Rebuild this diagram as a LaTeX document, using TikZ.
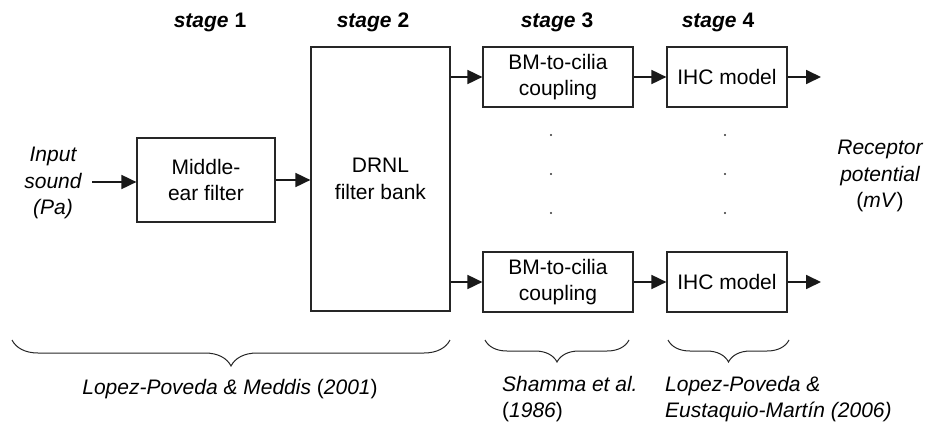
\documentclass[tikz,border=0pt]{standalone}
\usepackage{fontspec}
\setmainfont{Liberation Sans}
\usetikzlibrary{arrows.meta,decorations.pathreplacing}
\begin{document}
\begin{tikzpicture}[x=1pt,y=-1pt,
  font=\fontsize{21}{26.5}\selectfont,
  block/.style={draw=black!85,line width=1.2pt,minimum width=#1,align=center,inner sep=0pt},
  flow/.style={line width=1.8pt,draw=black!90,-{Triangle[length=15pt,width=14pt]}},
  label/.style={align=center,inner sep=0pt},
  stagelbl/.style={inner sep=0pt,font=\fontsize{21}{26.5}\selectfont\bfseries},
  grp/.style={draw=black!85,line width=1pt,decorate,decoration={brace,mirror,amplitude=13pt}},
  dot/.style={circle,fill=black!80,inner sep=0pt,minimum size=2.4pt}]
\useasboundingbox (0,0) rectangle (927,423);

% stage headers
\node[stagelbl] (s1) at (210,22) {\itshape stage\/ \upshape 1};
\node[stagelbl] (s2) at (373,22) {\itshape stage\/ \upshape 2};
\node[stagelbl] (s3) at (557,22) {\itshape stage\/ \upshape 3};
\node[stagelbl] (s4) at (718,22) {\itshape stage\/ \upshape 4};

% processing blocks
\node[block=138pt,minimum height=84pt] (me) at (206,180) {Middle-\\ear filter};
\node[block=139pt,minimum height=264pt] (drnl) at (380.5,179) {DRNL\\filter bank};
\node[block=150pt,minimum height=60pt] (bma) at (558,77) {BM-to-cilia\\coupling};
\node[block=120pt,minimum height=60pt] (ihca) at (727,77) {IHC model};
\node[block=150pt,minimum height=60pt] (bmb) at (558,282) {BM-to-cilia\\coupling};
\node[block=120pt,minimum height=60pt] (ihcb) at (727,282) {IHC model};

% input and output labels
\node[label] (in) at (53,183) {\itshape Input\\\itshape sound\\\itshape (Pa)};
\node[label] (out) at (880,176) {\itshape Receptor\\\itshape potential\\(\textit{mV})};
\coordinate (ina) at (92,182);
\coordinate (outa) at (821,77);
\coordinate (outb) at (821,282);

% signal flow
\draw[flow] (ina) -- (me.west |- ina);
\draw[flow] (me.east) -- (drnl.west |- me.east);
\draw[flow] (drnl.east |- bma.west) -- (bma.west);
\draw[flow] (drnl.east |- bmb.west) -- (bmb.west);
\draw[flow] (bma.east) -- (ihca.west);
\draw[flow] (bmb.east) -- (ihcb.west);
\draw[flow] (ihca.east) -- (outa);
\draw[flow] (ihcb.east) -- (outb);

% ellipsis between the channels
\foreach \y [count=\i] in {135,174,213} {
  \node[dot] (da\i) at (551,\y) {};
  \node[dot] (db\i) at (725,\y) {};
}

% model references
\coordinate (b1l) at (12,340);
\coordinate (b1r) at (450,340);
\coordinate (b2l) at (485,340);
\coordinate (b2r) at (629,340);
\coordinate (b3l) at (668,340);
\coordinate (b3r) at (789,340);
\draw[grp,decoration={amplitude=26pt,aspect=0.5}] (b1l) -- (b1r);
\draw[grp,decoration={amplitude=22pt,aspect=0.5}] (b2l) -- (b2r);
\draw[grp,decoration={amplitude=22pt,aspect=0.5}] (b3l) -- (b3r);

\node[label] (r1) at (230,389) {\itshape Lopez-Poveda \& Meddis \upshape(\textit{2001})};
\node[label,anchor=north west,align=left] (r2) at (502,376) {\itshape Shamma et al.\\(\textit{1986})};
\node[label,anchor=north west,align=left] (r3) at (665,376) {\itshape Lopez-Poveda \&\\\itshape Eustaquio-Mart\'in (2006)};
\end{tikzpicture}
\end{document}
